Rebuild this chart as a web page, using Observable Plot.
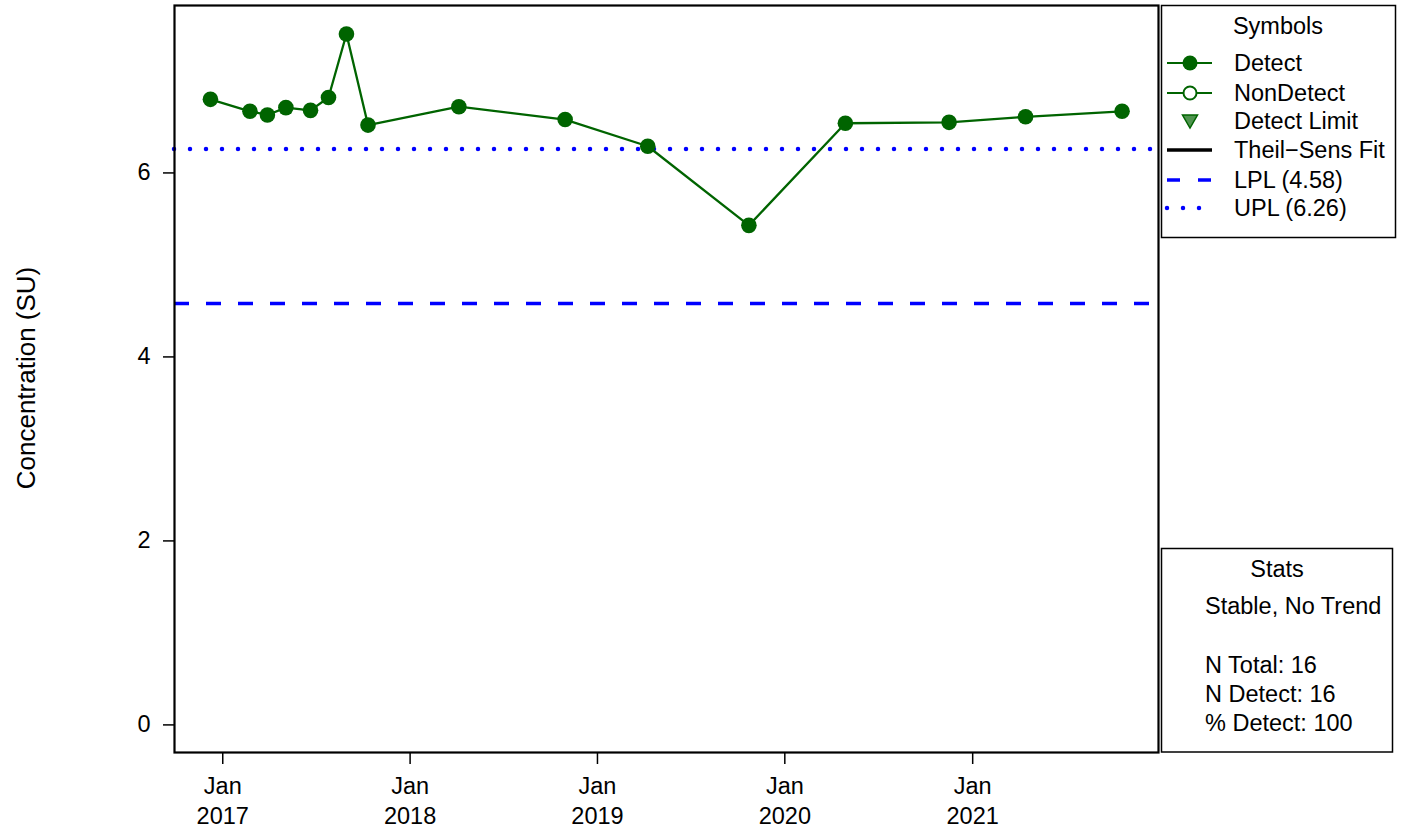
<!DOCTYPE html>
<html>
<head>
<meta charset="utf-8">
<script src="https://cdn.jsdelivr.net/npm/d3@7"></script>
<script src="https://cdn.jsdelivr.net/npm/@observablehq/plot@0.6"></script>
<style>
  html, body { margin: 0; padding: 0; background: white; }
  #chart { width: 1402px; height: 831px; overflow: hidden; }
</style>
</head>
<body>
<div id="chart"></div>
<script>
// ---- data ----
const sampleDates = ["2016-12-08", "2017-02-23", "2017-03-29", "2017-05-04", "2017-06-21", "2017-07-26",
  "2017-08-30", "2017-10-11", "2018-04-06", "2018-10-30", "2019-04-09", "2019-10-23",
  "2020-04-28", "2020-11-16", "2021-04-14", "2021-10-19"];
const concentrations = [6.80, 6.67, 6.63, 6.71, 6.68, 6.82, 7.51, 6.52, 6.72, 6.58, 6.29, 5.43, 6.54, 6.55, 6.61, 6.67];
const LPL = 4.58;
const UPL = 6.26;
const xTickDates = ["2017-01-01", "2018-01-01", "2019-01-01", "2020-01-01", "2021-01-01"];
const yTicks = [0, 2, 4, 6];
const symbolLabels = ["Detect", "NonDetect", "Detect Limit", "Theil\u2212Sens Fit", `LPL (${LPL.toFixed(2)})`, `UPL (${UPL.toFixed(2)})`];
const statsLines = ["Stable, No Trend", "", "N Total: 16", "N Detect: 16", "% Detect: 100"];

const data = sampleDates.map((d, i) => ({date: new Date(d), value: concentrations[i]}));
const green = "#006400";
const blue = "#0000FF";
const font = "'Liberation Sans', Arial, Helvetica, sans-serif";
const fs = 23.5;

const svg = Plot.plot({
  width: 1402,
  height: 831,
  marginLeft: 174,
  marginRight: 244,
  marginTop: 5,
  marginBottom: 79,
  style: {fontFamily: font, fontSize: fs + "px", background: "white", color: "black"},
  x: {type: "utc", domain: [new Date("2016-09-29"), new Date("2021-12-29")]},
  y: {domain: [-0.30, 7.82]},
  marks: [
    Plot.ruleY([LPL], {stroke: blue, strokeWidth: 3.5, strokeDasharray: "15,17"}),
    Plot.ruleY([UPL], {stroke: blue, strokeWidth: 4.5, strokeDasharray: "0,16", strokeLinecap: "round"}),
    Plot.line(data, {x: "date", y: "value", stroke: green, strokeWidth: 2.3}),
    Plot.dot(data, {x: "date", y: "value", r: 7.8, fill: green, stroke: "none"}),
    Plot.axisX({
      ticks: xTickDates.map(d => new Date(d)),
      tickFormat: d => `Jan\n${d.getUTCFullYear()}`,
      tickSize: 12, tickPadding: 8, strokeWidth: 1.5,
      label: null, lineHeight: 1.28, fontSize: fs
    }),
    Plot.axisY({ticks: yTicks, tickSize: 11, tickPadding: 13, strokeWidth: 1.5, label: null, fontSize: fs}),
    Plot.frame({stroke: "black", strokeWidth: 2.2})
  ]
});

document.getElementById("chart").appendChild(svg);

// ---- extra annotations: y label and legend boxes ----
const s = d3.select(svg);
s.append("text")
  .attr("transform", "translate(28,378) rotate(-90)")
  .attr("text-anchor", "middle")
  .attr("dominant-baseline", "middle")
  .attr("font-family", font).attr("font-size", 26)
  .attr("fill", "black")
  .text("Concentration (SU)");

// Symbols legend
const lg = s.append("g").attr("font-family", font).attr("font-size", fs).attr("fill", "black").attr("text-anchor", "start");
lg.append("rect").attr("x", 1161.5).attr("y", 5.5).attr("width", 234).attr("height", 232)
  .attr("fill", "white").attr("stroke", "black").attr("stroke-width", 1.5);
lg.append("text").attr("x", 1278).attr("y", 28).attr("text-anchor", "middle")
  .attr("dominant-baseline", "middle").text("Symbols");
const rowY = [63, 93, 121, 150, 180, 208];
const sx0 = 1167, sx1 = 1212, scx = 1190;
symbolLabels.forEach((t, i) => {
  lg.append("text").attr("x", 1234).attr("y", rowY[i] + 1.5).attr("text-anchor", "start").attr("dominant-baseline", "middle").text(t);
});
// Detect
lg.append("line").attr("x1", sx0).attr("x2", sx1).attr("y1", rowY[0]).attr("y2", rowY[0]).attr("stroke", green).attr("stroke-width", 2);
lg.append("circle").attr("cx", scx).attr("cy", rowY[0]).attr("r", 7.5).attr("fill", green);
// NonDetect
lg.append("line").attr("x1", sx0).attr("x2", sx1).attr("y1", rowY[1]).attr("y2", rowY[1]).attr("stroke", green).attr("stroke-width", 2);
lg.append("circle").attr("cx", scx).attr("cy", rowY[1]).attr("r", 6.5).attr("fill", "white").attr("stroke", green).attr("stroke-width", 2);
// Detect limit triangle
lg.append("path")
  .attr("d", `M${scx - 7.5},${rowY[2] - 6} L${scx + 7.5},${rowY[2] - 6} L${scx},${rowY[2] + 7} Z`)
  .attr("fill", "#4f944f").attr("stroke", green).attr("stroke-width", 1.5);
// Theil-Sens
lg.append("line").attr("x1", sx0).attr("x2", sx1).attr("y1", rowY[3]).attr("y2", rowY[3]).attr("stroke", "black").attr("stroke-width", 3.5);
// LPL
lg.append("line").attr("x1", sx0).attr("x2", sx1).attr("y1", rowY[4]).attr("y2", rowY[4]).attr("stroke", blue).attr("stroke-width", 3.5).attr("stroke-dasharray", "13,18");
// UPL
lg.append("line").attr("x1", sx0).attr("x2", sx1).attr("y1", rowY[5]).attr("y2", rowY[5]).attr("stroke", blue).attr("stroke-width", 4.5).attr("stroke-dasharray", "0,16").attr("stroke-linecap", "round");

// Stats legend
const st = s.append("g").attr("font-family", font).attr("font-size", fs).attr("fill", "black").attr("text-anchor", "start");
st.append("rect").attr("x", 1161.5).attr("y", 548.5).attr("width", 231).attr("height", 203.5)
  .attr("fill", "white").attr("stroke", "black").attr("stroke-width", 1.5);
st.append("text").attr("x", 1277).attr("y", 571).attr("text-anchor", "middle").attr("dominant-baseline", "middle").text("Stats");
const statY = [608, 638, 667, 696, 725];
statsLines.forEach((t, i) => {
  if (t) st.append("text").attr("x", 1205).attr("y", statY[i]).attr("text-anchor", "start").attr("dominant-baseline", "middle").text(t);
});
</script>
</body>
</html>
